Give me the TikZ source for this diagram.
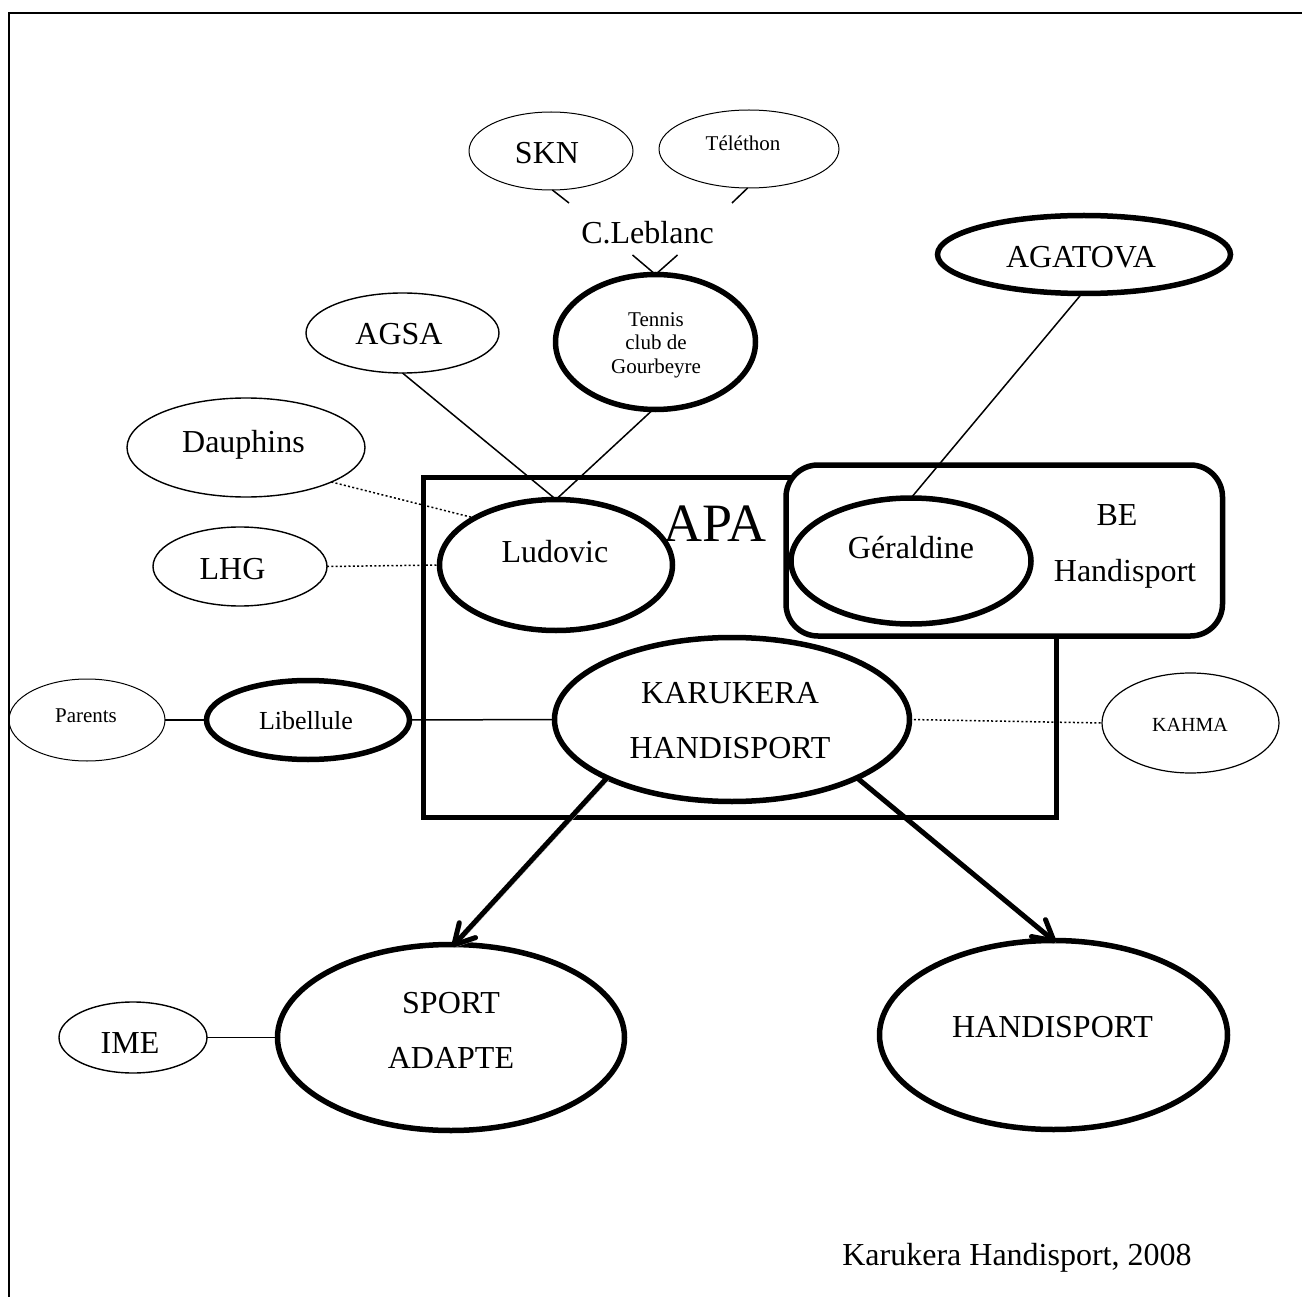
\documentclass[tikz,border=0pt]{standalone}
\usepackage{fontspec}
\setmainfont{Liberation Serif}
\usetikzlibrary{shapes.geometric,arrows.meta,calc}
\newcommand\lbl[3]{\makebox[0pt]{\hspace*{#1pt}\raisebox{#2pt}[0pt][0pt]{#3}\hspace*{-#1pt}}}
\tikzset{
  base/.style={inner sep=0pt,outer sep=0pt,font=\fontsize{32}{36}\selectfont},
  thin ell/.style 2 args={base,ellipse,draw,line width=1.4pt,minimum width=2*#1,minimum height=2*#2},
  thick ell/.style 2 args={base,ellipse,draw,line width=5.5pt,minimum width=2*#1,minimum height=2*#2},
  conn/.style={line width=1.5pt},
  dots/.style={line width=1.5pt,dash pattern=on 2pt off 2.3pt},
  bigarrow/.style={line width=5pt,shorten >=-3pt,-{Straight Barb[length=20pt,width=22pt,line width=5pt,round]},
    preaction={draw=black!22,transform canvas={xshift=2pt,yshift=-2pt}}},
  small/.style={font=\fontsize{21}{24}\selectfont},
}
\begin{document}
\begin{tikzpicture}[x=1pt,y=-1pt]
\useasboundingbox (0,0) rectangle (1302,1297);
\draw[line width=2.2pt] (9,1297) -- (9,13) -- (1302,13);
% frames
\node[base,draw,line width=5pt,minimum width=633pt,minimum height=340pt] (apa) at (739.75,647)
  {\fontsize{54}{60}\selectfont\lbl{-25}{106}{APA}};
\node[base,draw,fill=white,line width=5.5pt,rounded corners=32pt,minimum width=436.5pt,minimum height=171pt] (be) at (1004.25,550.5)
  {\lbl{112.75}{25}{BE}\lbl{120.75}{-31}{Handisport}};
% ellipses
\node[thin ell={82pt}{39pt},line width=1pt] (skn) at (551,151) {\lbl{-4}{-13}{SKN}};
\node[thin ell={90pt}{39pt},line width=1pt,small] (tel) at (749,149) {\lbl{-6}{-2}{Téléthon}};
\node[base,minimum width=163pt,minimum height=52pt] (leb) at (650.5,229) {\lbl{-3}{-15}{C.Leblanc}};
\node[thick ell={100pt}{67.5pt},small] (ten) at (655.5,342)
  {\lbl{0.5}{15}{Tennis}\lbl{0.5}{-8}{club de}\lbl{0.5}{-32}{Gourbeyre}};
\node[thin ell={96.5pt}{40pt}] (agsa) at (402.5,333) {\lbl{-3.5}{-12}{AGSA}};
\node[thin ell={119pt}{49.5pt}] (dau) at (246,447.5) {\lbl{-2.5}{-5.5}{Dauphins}};
\node[thin ell={87pt}{39.5pt}] (lhg) at (240,566.5) {\lbl{-7.5}{-12.5}{LHG}};
\node[thick ell={116.5pt}{65.5pt}] (lud) at (556,565) {\lbl{-1}{3}{Ludovic}};
\node[thick ell={120pt}{63pt}] (ger) at (911,561) {\lbl{0}{3}{Géraldine}};
\node[thick ell={146.5pt}{39pt}] (aga) at (1084,254.5) {\lbl{-3}{-13.5}{AGATOVA}};
\node[thick ell={177.5pt}{82pt}] (kar) at (732,719.5) {\lbl{-2}{16.5}{KARUKERA}\lbl{-2}{-38.5}{HANDISPORT}};
\node[thick ell={101.5pt}{39.5pt},font=\fontsize{26}{30}\selectfont] (lib) at (308,720) {\lbl{-2}{-9}{Libellule}};
\node[thin ell={78pt}{41pt},line width=1pt,small] (par) at (87,720) {\lbl{-1}{-2}{Parents}};
\node[thin ell={88.5pt}{50pt},line width=1.2pt,font=\fontsize{20}{24}\selectfont] (kah) at (1190.5,723) {\lbl{-0.5}{-8}{KAHMA}};
\node[thick ell={173.5pt}{93pt}] (spo) at (451,1037.5) {\lbl{0}{24.5}{SPORT}\lbl{0}{-30.5}{ADAPTE}};
\node[thick ell={174pt}{94.5pt}] (han) at (1053.5,1035) {\lbl{-1}{-2}{HANDISPORT}};
\node[thin ell={74pt}{35.5pt}] (ime) at (133,1037.5) {\lbl{-3}{-15.5}{IME}};
\node[base,anchor=base] (cap) at (1017,1265) {Karukera Handisport, 2008};
% connectors
\draw[conn] (skn.272) -- (leb.north west);
\draw[conn] (tel.268) -- (leb.north east);
\draw[conn] (ten.90) -- ($(leb.south)+(-18,0)$);
\draw[conn] (ten.90) -- ($(leb.south)+(27,0)$);
\draw[conn] (agsa.270) -- (lud.90);
\draw[conn] (ten.268) -- (lud.90);
\draw[dots] (dau.-22.4) -- (lud.150.8);
\draw[dots] (lhg.0) -- (lud.180);
\draw[conn] (par.0) -- (lib.180);
\draw[conn] (lib.0) -- (kar.180);
\draw[dots] (kar.0) -- (kah.180);
\draw[conn] (ime.0) -- (spo.180);
\draw[conn] (aga.267) -- (ger.90);
\draw[bigarrow] (kar.205.5) -- (spo.88.8);
\draw[bigarrow] (kar.-25.6) -- (han.90.9);
\end{tikzpicture}
\end{document}
